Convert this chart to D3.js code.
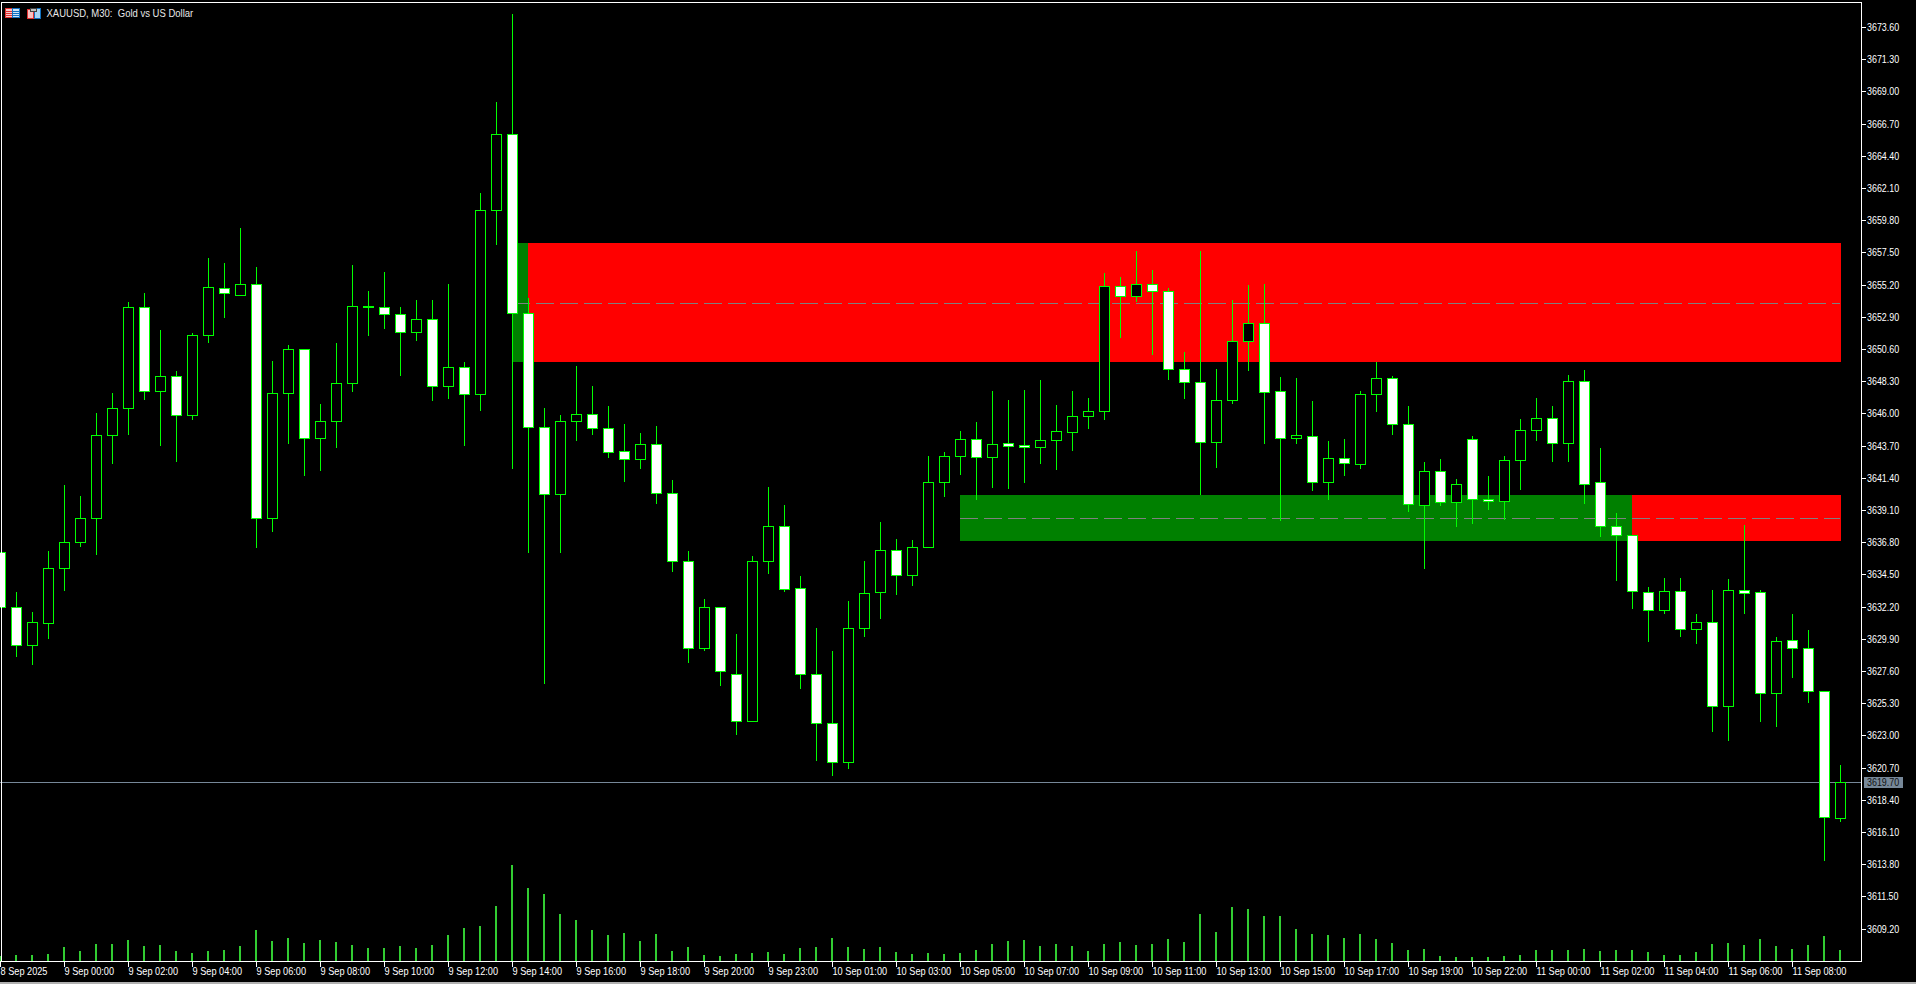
<!DOCTYPE html>
<html><head><meta charset="utf-8">
<style>
html,body{margin:0;padding:0;background:#000;overflow:hidden}
svg{display:block}
text{font-family:"Liberation Sans",Arial,sans-serif;font-size:11px;fill:#fff}
</style>
<script src="https://cdnjs.cloudflare.com/ajax/libs/d3/7.8.5/d3.min.js"></script>
</head><body>
<script>
const chartTitle = "XAUUSD, M30:  Gold vs US Dollar";
const lastPrice = 3619.70;

const opens = [3636.11,3632.18,3629.44,3631.01,3634.94,3636.80,3638.51,3644.44,3646.40,3653.61,
3647.58,3648.68,3645.87,3651.61,3654.97,3654.44,3655.25,3638.51,3647.44,3650.61,
3644.22,3645.44,3648.15,3653.60,3653.61,3653.11,3651.80,3652.75,3647.94,3649.32,
3647.37,3660.54,3665.97,3653.18,3645.02,3640.25,3645.46,3645.97,3644.95,3643.31,
3642.72,3643.82,3640.32,3635.44,3629.24,3632.16,3627.38,3624.03,3635.44,3637.95,
3633.54,3627.38,3623.88,3621.13,3630.66,3633.25,3636.24,3634.45,3636.46,3641.08,
3642.94,3644.18,3642.85,3643.90,3643.75,3643.58,3644.08,3644.65,3645.80,3646.15,
3655.11,3654.37,3655.25,3654.75,3649.18,3648.25,3643.94,3646.92,3651.15,3652.47,
3647.61,3644.22,3644.40,3641.08,3642.82,3642.37,3647.37,3648.54,3645.25,3639.44,
3641.90,3639.67,3644.19,3639.91,3639.74,3642.67,3644.80,3645.69,3643.87,3648.32,
3641.12,3637.94,3637.32,3633.25,3631.94,3633.32,3630.59,3631.10,3625.08,3633.39,
3633.25,3626.01,3629.82,3629.26,3626.18,3617.11];

const highs = [3636.11,3633.25,3631.82,3636.20,3640.85,3640.13,3645.99,3647.42,3653.92,3654.56,
3651.92,3648.99,3651.77,3657.06,3656.77,3659.27,3656.42,3649.77,3650.85,3650.61,
3646.70,3650.99,3656.56,3654.77,3656.06,3653.61,3654.13,3654.13,3655.27,3649.70,
3661.77,3668.27,3674.49,3654.27,3646.35,3645.86,3649.36,3647.92,3646.49,3645.27,
3644.58,3645.06,3641.27,3636.20,3632.77,3632.16,3630.27,3635.80,3640.77,3639.42,
3634.38,3630.70,3628.99,3632.63,3635.42,3638.27,3636.99,3636.92,3642.92,3643.27,
3644.77,3645.35,3647.56,3646.92,3647.70,3648.35,3646.56,3647.63,3647.13,3655.99,
3655.77,3657.56,3656.27,3654.97,3650.35,3657.56,3649.20,3654.06,3655.20,3655.27,
3648.56,3648.49,3646.85,3643.99,3644.20,3647.56,3649.70,3648.70,3646.49,3642.49,
3642.77,3641.29,3644.35,3641.49,3642.92,3645.56,3647.13,3646.49,3648.72,3649.06,
3643.50,3638.85,3637.32,3633.63,3634.27,3634.27,3631.65,3633.35,3634.20,3637.99,
3633.35,3630.00,3631.70,3630.49,3626.18,3620.85];

const lows = [3632.15,3628.70,3628.13,3629.92,3633.35,3636.51,3635.92,3642.42,3644.49,3646.99,
3643.77,3642.63,3645.63,3651.13,3652.85,3654.44,3636.42,3637.56,3643.85,3641.56,
3641.92,3643.56,3647.63,3651.56,3652.13,3648.77,3651.27,3646.92,3647.13,3643.77,
3646.27,3658.13,3642.13,3636.13,3626.77,3636.13,3644.07,3644.49,3642.87,3641.20,
3642.06,3639.63,3634.75,3628.27,3629.13,3626.56,3623.13,3624.03,3634.56,3633.29,
3626.36,3621.27,3620.20,3620.70,3630.06,3631.35,3633.06,3633.77,3636.46,3640.13,
3641.70,3639.85,3640.77,3640.70,3641.13,3642.42,3641.99,3643.35,3644.92,3645.63,
3651.42,3653.99,3650.27,3648.42,3647.06,3640.27,3642.20,3646.77,3649.13,3643.85,
3638.35,3643.85,3640.49,3639.85,3641.56,3642.13,3646.20,3644.49,3638.99,3634.92,
3639.42,3637.92,3638.14,3639.20,3638.42,3640.63,3644.13,3642.56,3642.56,3639.63,
3637.27,3634.13,3632.06,3629.77,3631.77,3630.07,3629.63,3623.31,3622.65,3631.77,
3623.99,3623.70,3627.15,3625.35,3614.06,3616.85];

const closes = [3632.15,3629.44,3631.11,3634.97,3636.82,3638.54,3644.47,3646.40,3653.61,3647.58,
3648.68,3645.87,3651.61,3655.04,3654.58,3655.25,3638.51,3647.47,3650.61,3644.22,
3645.47,3648.18,3653.68,3653.68,3653.08,3651.80,3652.75,3647.94,3649.32,3647.37,
3660.54,3665.97,3653.15,3645.02,3640.25,3645.46,3645.97,3644.95,3643.23,3642.72,
3643.82,3640.32,3635.44,3629.24,3632.16,3627.60,3624.03,3635.44,3637.95,3633.47,
3627.38,3623.88,3621.13,3630.66,3633.17,3636.24,3634.45,3636.46,3641.08,3642.95,
3644.18,3642.85,3643.82,3643.65,3643.58,3644.11,3644.75,3645.82,3646.18,3655.11,
3654.37,3655.25,3654.72,3649.15,3648.22,3643.94,3646.97,3651.18,3652.47,3647.51,
3644.22,3644.47,3641.08,3642.82,3642.44,3647.40,3648.54,3645.22,3639.51,3641.90,
3639.67,3640.97,3639.86,3639.74,3642.69,3644.83,3645.69,3643.87,3648.32,3640.95,
3637.94,3637.30,3633.30,3631.94,3633.32,3630.59,3631.10,3625.08,3633.39,3633.15,
3626.01,3629.75,3629.23,3626.16,3617.16,3619.70];

const volumes = [500,600,600,700,1400,1000,1700,1700,2100,1500,
1600,1000,800,1000,1100,1500,3100,2000,2300,1800,
2100,1900,1600,1300,1300,1500,1300,1600,2600,3300,
3500,5500,9600,7300,6700,4700,4100,3100,2600,2800,
2000,2700,1000,1400,600,500,700,800,900,700,
1300,1400,2300,1400,1200,1400,900,700,800,700,
800,1100,1700,2000,2100,1500,1700,1500,1000,1700,
1900,1600,1700,2200,1900,4700,2900,5400,5200,4500,
4500,3200,2700,2600,2300,2700,2200,1800,1100,1200,
500,400,400,400,500,600,1100,1100,1100,1200,
1000,1100,1100,900,600,600,900,1700,1800,1600,
2200,1500,1200,1600,2500,1100];

const timeTickIndex = [0,4,8,12,16,20,24,28,32,36,40,44,48,52,56,60,64,68,72,76,80,84,88,92,96,100,104,108,112];
const timeTickLabels = ["8 Sep 2025","9 Sep 00:00","9 Sep 02:00","9 Sep 04:00","9 Sep 06:00","9 Sep 08:00","9 Sep 10:00","9 Sep 12:00","9 Sep 14:00","9 Sep 16:00","9 Sep 18:00","9 Sep 20:00","9 Sep 23:00","10 Sep 01:00","10 Sep 03:00","10 Sep 05:00","10 Sep 07:00","10 Sep 09:00","10 Sep 11:00","10 Sep 13:00","10 Sep 15:00","10 Sep 17:00","10 Sep 19:00","10 Sep 22:00","11 Sep 00:00","11 Sep 02:00","11 Sep 04:00","11 Sep 06:00","11 Sep 08:00"];
const priceTicks = [3673.6,3671.3,3669.0,3666.7,3664.4,3662.1,3659.8,3657.5,3655.2,3652.9,3650.6,3648.3,3646.0,3643.7,3641.4,3639.1,3636.8,3634.5,3632.2,3629.9,3627.6,3625.3,3623.0,3620.7,3618.4,3616.1,3613.8,3611.5,3609.2];

// zones: [startIndex, endIndex, top price, bottom price, colour]
const zoneStart = [32,33,60,102];
const zoneEnd = [33,115,102,115];
const zoneTop = [3658.20,3658.20,3640.20,3640.20];
const zoneBottom = [3649.70,3649.70,3636.92,3636.92];
const zoneColor = ["#008000","#ff0000","#008000","#ff0000"];
// dashed mid lines
const midStart = [32,60];
const midEnd = [115,115];
const midPrice = [3653.90,3638.53];

const W = 1916, H = 984;
const plotRight = 1861.5, plotBottom = 961.5;

const x = d3.scaleLinear().domain([0,115]).range([0.5,1840.5]);
const y = d3.scaleLinear().domain([3673.6,3609.2]).range([27.44,929.04]);
const v = d3.scaleLinear().domain([0,9600]).range([961,865]);
const crisp = p => Math.floor(y(p)) + 0.5;

const svg = d3.select("body").append("svg").attr("width",W).attr("height",H);
svg.append("rect").attr("width",W).attr("height",H).attr("fill","#000");

// zones
svg.append("g").selectAll("rect").data(zoneStart).join("rect")
  .attr("x",(d,i)=>Math.floor(x(d)))
  .attr("width",(d,i)=>Math.floor(x(zoneEnd[i]))-Math.floor(x(d))+1)
  .attr("y",(d,i)=>Math.round(y(zoneTop[i])))
  .attr("height",(d,i)=>Math.round(y(zoneBottom[i]))-Math.round(y(zoneTop[i])))
  .attr("fill",(d,i)=>zoneColor[i]);

// dashed mid lines
svg.append("g").selectAll("line").data(midPrice).join("line")
  .attr("x1",(d,i)=>Math.floor(x(midStart[i])))
  .attr("x2",(d,i)=>Math.floor(x(midEnd[i])))
  .attr("y1",d=>crisp(d)).attr("y2",d=>crisp(d))
  .attr("stroke","#808080").attr("stroke-width",1).attr("stroke-dasharray","18 6")
  .attr("shape-rendering","crispEdges");

// last price line
svg.append("line").attr("x1",0).attr("x2",plotRight)
  .attr("y1",crisp(lastPrice)).attr("y2",crisp(lastPrice))
  .attr("stroke","#778899").attr("shape-rendering","crispEdges");

// volumes
svg.append("g").selectAll("rect").data(volumes).join("rect")
  .attr("x",(d,i)=>x(i)-1.5).attr("width",2)
  .attr("y",d=>v(d)).attr("height",d=>v(0)-v(d))
  .attr("fill","#32cd32");

// candles
const candles = svg.append("g").attr("shape-rendering","crispEdges");
candles.selectAll("line").data(opens).join("line")
  .attr("x1",(d,i)=>x(i)).attr("x2",(d,i)=>x(i))
  .attr("y1",(d,i)=>Math.floor(y(highs[i])))
  .attr("y2",(d,i)=>Math.floor(y(lows[i]))+1)
  .attr("stroke","#00ff00");
candles.selectAll("rect").data(opens).join("rect")
  .attr("x",(d,i)=>x(i)-5).attr("width",10)
  .attr("y",(d,i)=>crisp(Math.max(d,closes[i])))
  .attr("height",(d,i)=>Math.max(1,crisp(Math.min(d,closes[i]))-crisp(Math.max(d,closes[i]))))
  .attr("fill",(d,i)=>closes[i]<d?"#fff":"#000")
  .attr("stroke","#00ff00");

// frame
const frame = svg.append("g").attr("stroke","#fff").attr("shape-rendering","crispEdges");
frame.append("line").attr("x1",1.5).attr("x2",plotRight).attr("y1",2.5).attr("y2",2.5);
frame.append("line").attr("x1",1.5).attr("x2",1.5).attr("y1",2).attr("y2",plotBottom);

// price axis
const sy = "scale(0.81,1)";
const sxt = "scale(0.835,1)";
const gy = svg.append("g").attr("transform",`translate(${plotRight},0)`)
  .call(d3.axisRight(y).tickValues(priceTicks).tickSize(4).tickFormat(d3.format(".2f")));
gy.select(".domain").attr("d",`M0,2V${plotBottom}`).attr("stroke","#fff").attr("shape-rendering","crispEdges");
gy.selectAll(".tick").attr("transform",d=>`translate(0,${crisp(d)})`);
gy.selectAll(".tick line").attr("stroke","#fff").attr("shape-rendering","crispEdges");
gy.selectAll(".tick text").attr("x",null).attr("dy",null)
  .attr("transform",`translate(5.5,3.5) ${sy}`).attr("text-anchor","start")
  .style("font-family",'"Liberation Sans",Arial,sans-serif').style("font-size","11px").attr("fill","#fff");

// time axis
const gx = svg.append("g").attr("transform",`translate(0,${plotBottom})`)
  .call(d3.axisBottom(x).tickValues(timeTickIndex).tickSize(5).tickFormat((d,i)=>timeTickLabels[i]));
gx.select(".domain").attr("d",`M0,0H${plotRight}`).attr("stroke","#fff").attr("shape-rendering","crispEdges");
gx.selectAll(".tick").attr("transform",d=>`translate(${x(d)},0)`);
gx.selectAll(".tick line").attr("stroke","#fff").attr("shape-rendering","crispEdges");
gx.selectAll(".tick text").attr("y",null).attr("dy",null)
  .attr("transform",`translate(0,13) ${sxt}`).attr("text-anchor","start")
  .style("font-family",'"Liberation Sans",Arial,sans-serif').style("font-size","11px").attr("fill","#fff");

// last price tag
svg.append("rect").attr("x",1864).attr("y",Math.floor(y(lastPrice))-5).attr("width",39).attr("height",11).attr("fill","#778899");
svg.append("text").attr("transform",`translate(1867,${Math.floor(y(lastPrice))+4}) ${sy}`).style("fill","#111").text(d3.format(".2f")(lastPrice));

// window edges
svg.append("rect").attr("x",0).attr("y",982).attr("width",W).attr("height",2).attr("fill","#b0b0b0");

// title
svg.append("text").attr("transform",`translate(46.5,17) scale(0.865,1)`).style("fill","#e8e8e8").style("white-space","pre").attr("xml:space","preserve").text(chartTitle);

// header icons
const ic = svg.append("g").attr("shape-rendering","crispEdges");
ic.append("rect").attr("x",5.5).attr("y",8.5).attr("width",7).attr("height",9).attr("fill","#f8c8c8").attr("stroke","#e03030");
ic.append("rect").attr("x",12.5).attr("y",8.5).attr("width",7).attr("height",9).attr("fill","#cfe4f8").attr("stroke","#1070c0");
[11,13,15].forEach(t=>{ic.append("line").attr("x1",6).attr("x2",12).attr("y1",t+.5).attr("y2",t+.5).attr("stroke","#e03030");
ic.append("line").attr("x1",13).attr("x2",19).attr("y1",t+.5).attr("y2",t+.5).attr("stroke","#1070c0");});
ic.append("rect").attr("x",27.5).attr("y",9.5).attr("width",6).attr("height",9).attr("fill","#f8c0c0").attr("stroke","#e03030");
ic.append("rect").attr("x",34.5).attr("y",8.5).attr("width",6).attr("height",10).attr("fill","#a8d4f4").attr("stroke","#1070c0");
ic.append("rect").attr("x",30).attr("y",8).attr("width",6).attr("height",3).attr("fill","#c0c0c0").attr("stroke","#404040");
</script>
</body></html>
